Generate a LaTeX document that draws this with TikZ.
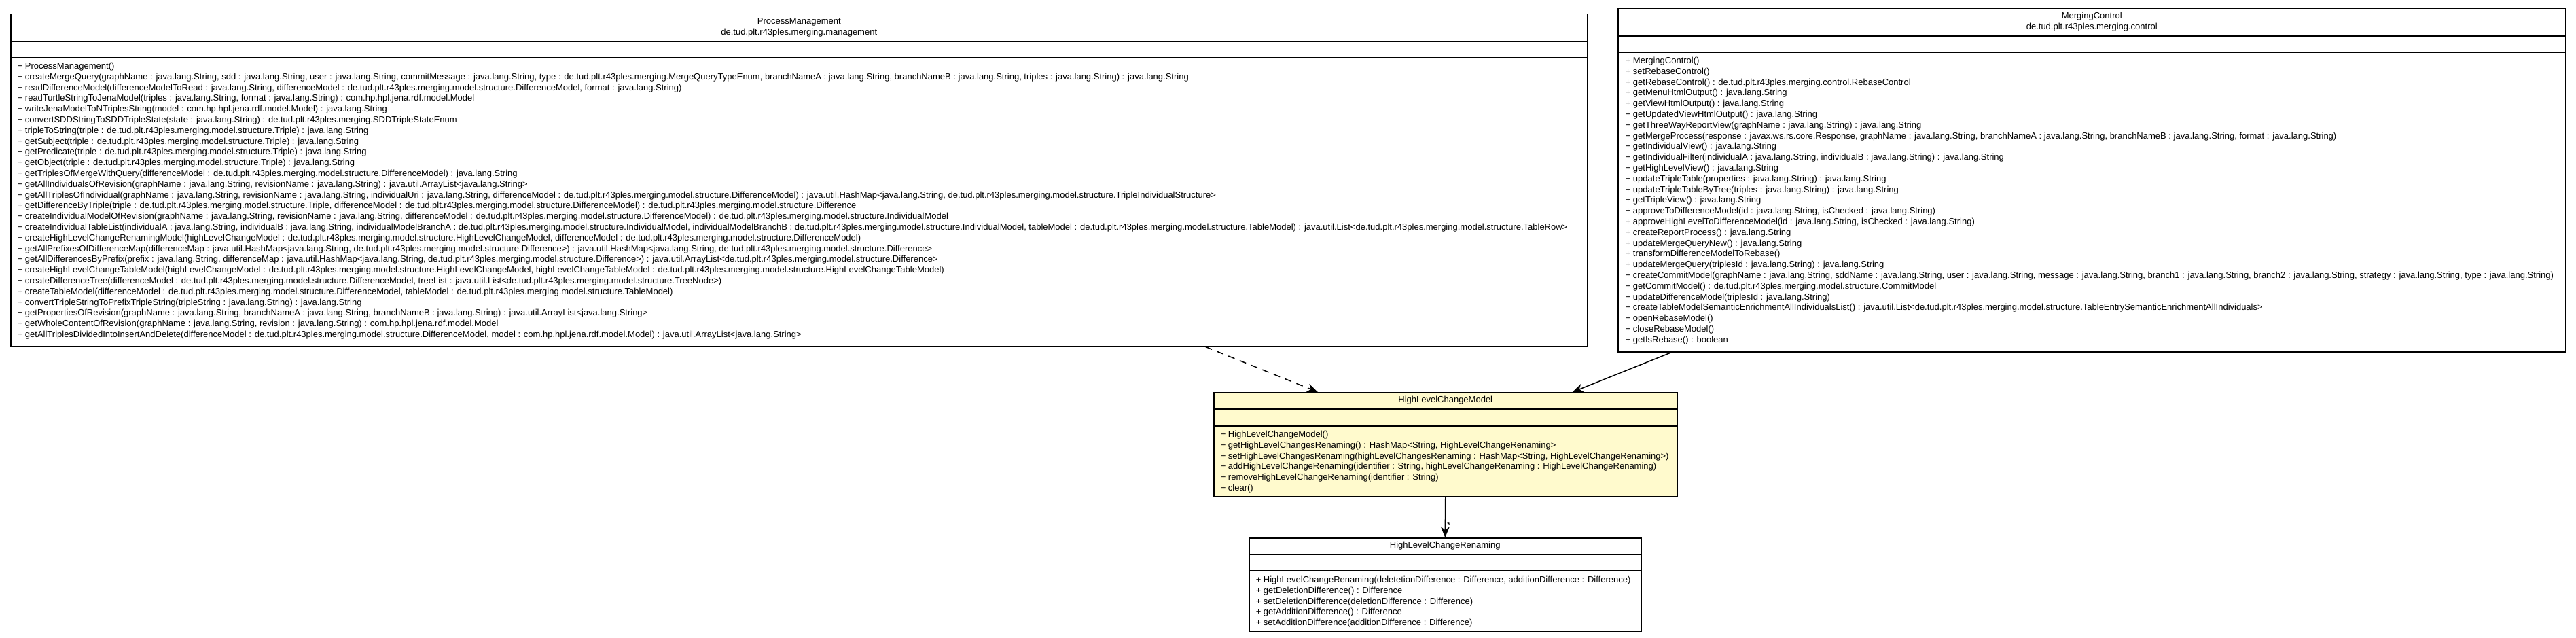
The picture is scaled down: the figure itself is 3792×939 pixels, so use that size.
\documentclass[tikz,border=0pt]{standalone}
\usepackage{fontspec}
\setmainfont{Liberation Sans}
\usetikzlibrary{positioning, arrows.meta}

\definecolor{notefill}{RGB}{255,250,205}
\newcommand{\umlfont}{\fontsize{13}{15.8}\selectfont}

\begin{document}
\begin{tikzpicture}[x=1pt, y=-1pt, line width=1.5pt,
  cls/.style = {draw, fill=white, inner sep=0pt, anchor=north west},
  hot/.style = {cls, fill=notefill},
  title/.style = {font=\umlfont, align=center, inner sep=0pt},
  ops/.style = {font=\umlfont, align=left, inner sep=0pt, anchor=north west},
  dep/.style = {dash pattern=on 10pt off 8pt, -{Stealth[length=16pt, width=13pt]}},
  nav/.style = {-{Stealth[length=16pt, width=13pt]}}]
\useasboundingbox (0,0) rectangle (3792,939);

% class boxes
\node[cls, minimum width=2321pt, minimum height=489pt] (pm) at (15,20) {};
\node[cls, minimum width=1395pt, minimum height=505pt] (mc) at (2381,12) {};
\node[hot, minimum width=682pt, minimum height=153pt] (hlcm) at (1786,577) {};
\node[cls, minimum width=577pt, minimum height=137pt] (hlcr) at (1838,791) {};

% compartments
\draw ([yshift=-41pt]pm.north west) -- ([yshift=-41pt]pm.north east);
\draw ([yshift=-65pt]pm.north west) -- ([yshift=-65pt]pm.north east);
\draw ([yshift=-41pt]mc.north west) -- ([yshift=-41pt]mc.north east);
\draw ([yshift=-65pt]mc.north west) -- ([yshift=-65pt]mc.north east);
\draw ([yshift=-25pt]hlcm.north west) -- ([yshift=-25pt]hlcm.north east);
\draw ([yshift=-50pt]hlcm.north west) -- ([yshift=-50pt]hlcm.north east);
\draw ([yshift=-25pt]hlcr.north west) -- ([yshift=-25pt]hlcr.north east);
\draw ([yshift=-49pt]hlcr.north west) -- ([yshift=-49pt]hlcr.north east);

% names
\node[title] (pmname) at ([yshift=-20.5pt]pm.north) {ProcessManagement\\de.tud.plt.r43ples.merging.management};
\node[title] (mcname) at ([yshift=-20.5pt]mc.north) {MergingControl\\de.tud.plt.r43ples.merging.control};
\node[title] (hlcmname) at ([yshift=-12pt]hlcm.north) {HighLevelChangeModel};
\node[title] (hlcrname) at ([yshift=-12.5pt]hlcr.north) {HighLevelChangeRenaming};

% operations
\node[ops] (pmops) at ([xshift=10pt, yshift=-69.6pt]pm.north west) {\strut+ ProcessManagement()\\
+ createMergeQuery(graphName : java.lang.String, sdd : java.lang.String, user : java.lang.String, commitMessage : java.lang.String, type : de.tud.plt.r43ples.merging.MergeQueryTypeEnum, branchNameA : java.lang.String, branchNameB : java.lang.String, triples : java.lang.String) : java.lang.String\\
+ readDifferenceModel(differenceModelToRead : java.lang.String, differenceModel : de.tud.plt.r43ples.merging.model.structure.DifferenceModel, format : java.lang.String)\\
+ readTurtleStringToJenaModel(triples : java.lang.String, format : java.lang.String) : com.hp.hpl.jena.rdf.model.Model\\
+ writeJenaModelToNTriplesString(model : com.hp.hpl.jena.rdf.model.Model) : java.lang.String\\
+ convertSDDStringToSDDTripleState(state : java.lang.String) : de.tud.plt.r43ples.merging.SDDTripleStateEnum\\
+ tripleToString(triple : de.tud.plt.r43ples.merging.model.structure.Triple) : java.lang.String\\
+ getSubject(triple : de.tud.plt.r43ples.merging.model.structure.Triple) : java.lang.String\\
+ getPredicate(triple : de.tud.plt.r43ples.merging.model.structure.Triple) : java.lang.String\\
+ getObject(triple : de.tud.plt.r43ples.merging.model.structure.Triple) : java.lang.String\\
+ getTriplesOfMergeWithQuery(differenceModel : de.tud.plt.r43ples.merging.model.structure.DifferenceModel) : java.lang.String\\
+ getAllIndividualsOfRevision(graphName : java.lang.String, revisionName : java.lang.String) : java.util.ArrayList<java.lang.String>\\
+ getAllTriplesOfIndividual(graphName : java.lang.String, revisionName : java.lang.String, individualUri : java.lang.String, differenceModel : de.tud.plt.r43ples.merging.model.structure.DifferenceModel) : java.util.HashMap<java.lang.String, de.tud.plt.r43ples.merging.model.structure.TripleIndividualStructure>\\
+ getDifferenceByTriple(triple : de.tud.plt.r43ples.merging.model.structure.Triple, differenceModel : de.tud.plt.r43ples.merging.model.structure.DifferenceModel) : de.tud.plt.r43ples.merging.model.structure.Difference\\
+ createIndividualModelOfRevision(graphName : java.lang.String, revisionName : java.lang.String, differenceModel : de.tud.plt.r43ples.merging.model.structure.DifferenceModel) : de.tud.plt.r43ples.merging.model.structure.IndividualModel\\
+ createIndividualTableList(individualA : java.lang.String, individualB : java.lang.String, individualModelBranchA : de.tud.plt.r43ples.merging.model.structure.IndividualModel, individualModelBranchB : de.tud.plt.r43ples.merging.model.structure.IndividualModel, tableModel : de.tud.plt.r43ples.merging.model.structure.TableModel) : java.util.List<de.tud.plt.r43ples.merging.model.structure.TableRow>\\
+ createHighLevelChangeRenamingModel(highLevelChangeModel : de.tud.plt.r43ples.merging.model.structure.HighLevelChangeModel, differenceModel : de.tud.plt.r43ples.merging.model.structure.DifferenceModel)\\
+ getAllPrefixesOfDifferenceMap(differenceMap : java.util.HashMap<java.lang.String, de.tud.plt.r43ples.merging.model.structure.Difference>) : java.util.HashMap<java.lang.String, de.tud.plt.r43ples.merging.model.structure.Difference>\\
+ getAllDifferencesByPrefix(prefix : java.lang.String, differenceMap : java.util.HashMap<java.lang.String, de.tud.plt.r43ples.merging.model.structure.Difference>) : java.util.ArrayList<de.tud.plt.r43ples.merging.model.structure.Difference>\\
+ createHighLevelChangeTableModel(highLevelChangeModel : de.tud.plt.r43ples.merging.model.structure.HighLevelChangeModel, highLevelChangeTableModel : de.tud.plt.r43ples.merging.model.structure.HighLevelChangeTableModel)\\
+ createDifferenceTree(differenceModel : de.tud.plt.r43ples.merging.model.structure.DifferenceModel, treeList : java.util.List<de.tud.plt.r43ples.merging.model.structure.TreeNode>)\\
+ createTableModel(differenceModel : de.tud.plt.r43ples.merging.model.structure.DifferenceModel, tableModel : de.tud.plt.r43ples.merging.model.structure.TableModel)\\
+ convertTripleStringToPrefixTripleString(tripleString : java.lang.String) : java.lang.String\\
+ getPropertiesOfRevision(graphName : java.lang.String, branchNameA : java.lang.String, branchNameB : java.lang.String) : java.util.ArrayList<java.lang.String>\\
+ getWholeContentOfRevision(graphName : java.lang.String, revision : java.lang.String) : com.hp.hpl.jena.rdf.model.Model\\
+ getAllTriplesDividedIntoInsertAndDelete(differenceModel : de.tud.plt.r43ples.merging.model.structure.DifferenceModel, model : com.hp.hpl.jena.rdf.model.Model) : java.util.ArrayList<java.lang.String>};

\node[ops] (mcops) at ([xshift=11pt, yshift=-69.6pt]mc.north west) {\strut+ MergingControl()\\
+ setRebaseControl()\\
+ getRebaseControl() : de.tud.plt.r43ples.merging.control.RebaseControl\\
+ getMenuHtmlOutput() : java.lang.String\\
+ getViewHtmlOutput() : java.lang.String\\
+ getUpdatedViewHtmlOutput() : java.lang.String\\
+ getThreeWayReportView(graphName : java.lang.String) : java.lang.String\\
+ getMergeProcess(response : javax.ws.rs.core.Response, graphName : java.lang.String, branchNameA : java.lang.String, branchNameB : java.lang.String, format : java.lang.String)\\
+ getIndividualView() : java.lang.String\\
+ getIndividualFilter(individualA : java.lang.String, individualB : java.lang.String) : java.lang.String\\
+ getHighLevelView() : java.lang.String\\
+ updateTripleTable(properties : java.lang.String) : java.lang.String\\
+ updateTripleTableByTree(triples : java.lang.String) : java.lang.String\\
+ getTripleView() : java.lang.String\\
+ approveToDifferenceModel(id : java.lang.String, isChecked : java.lang.String)\\
+ approveHighLevelToDifferenceModel(id : java.lang.String, isChecked : java.lang.String)\\
+ createReportProcess() : java.lang.String\\
+ updateMergeQueryNew() : java.lang.String\\
+ transformDifferenceModelToRebase()\\
+ updateMergeQuery(triplesId : java.lang.String) : java.lang.String\\
+ createCommitModel(graphName : java.lang.String, sddName : java.lang.String, user : java.lang.String, message : java.lang.String, branch1 : java.lang.String, branch2 : java.lang.String, strategy : java.lang.String, type : java.lang.String)\\
+ getCommitModel() : de.tud.plt.r43ples.merging.model.structure.CommitModel\\
+ updateDifferenceModel(triplesId : java.lang.String)\\
+ createTableModelSemanticEnrichmentAllIndividualsList() : java.util.List<de.tud.plt.r43ples.merging.model.structure.TableEntrySemanticEnrichmentAllIndividuals>\\
+ openRebaseModel()\\
+ closeRebaseModel()\\
+ getIsRebase() : boolean};

\node[ops] (hlcmops) at ([xshift=10pt, yshift=-54.6pt]hlcm.north west) {\strut+ HighLevelChangeModel()\\
+ getHighLevelChangesRenaming() : HashMap<String, HighLevelChangeRenaming>\\
+ setHighLevelChangesRenaming(highLevelChangesRenaming : HashMap<String, HighLevelChangeRenaming>)\\
+ addHighLevelChangeRenaming(identifier : String, highLevelChangeRenaming : HighLevelChangeRenaming)\\
+ removeHighLevelChangeRenaming(identifier : String)\\
+ clear()};

\node[ops] (hlcrops) at ([xshift=10pt, yshift=-54.6pt]hlcr.north west) {\strut+ HighLevelChangeRenaming(deletetionDifference : Difference, additionDifference : Difference)\\
+ getDeletionDifference() : Difference\\
+ setDeletionDifference(deletionDifference : Difference)\\
+ getAdditionDifference() : Difference\\
+ setAdditionDifference(additionDifference : Difference)};

% relations
\draw[dep] ([xshift=598.5pt]pm.south) -- ([xshift=-188pt]hlcm.north);
\draw[nav] ([xshift=-618.5pt]mc.south) -- ([xshift=187pt]hlcm.north);
\draw[nav] (hlcm.south) -- (hlcr.north) node[pos=0.7, right, inner sep=2pt, font=\umlfont] (mult) {*};
\end{tikzpicture}
\end{document}
